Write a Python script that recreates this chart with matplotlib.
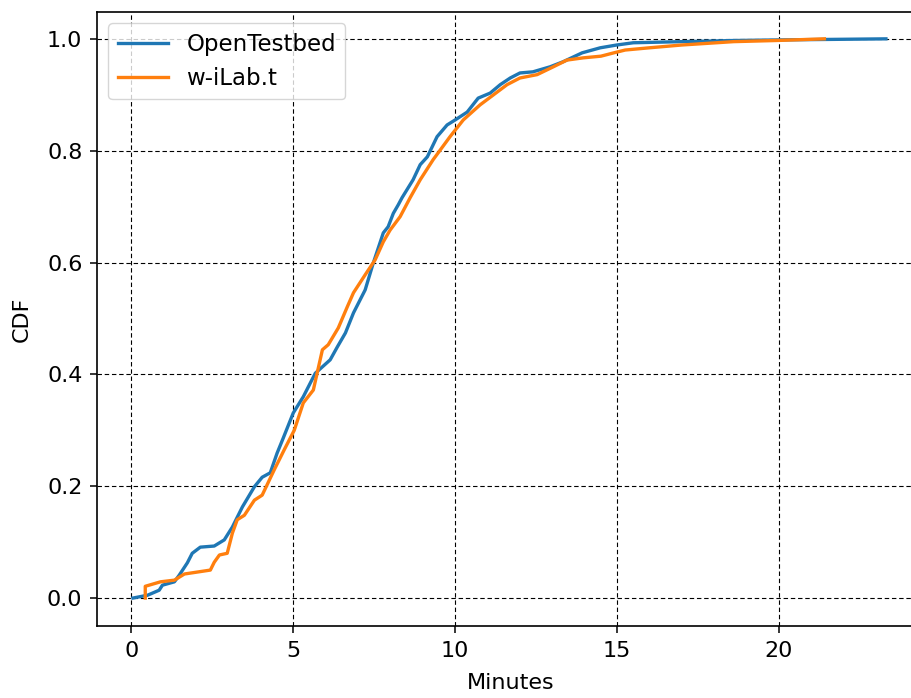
import matplotlib
matplotlib.use("Agg")
import matplotlib.pyplot as plt

# OpenTestbed CDF (minutes, cumulative fraction)
open_x = [0.05, 0.5, 0.86, 0.96, 1.33, 1.48, 1.73, 1.88, 2.13, 2.56, 2.87, 3.12, 3.43, 3.8,
          4.04, 4.29, 4.5, 4.69, 5.0, 5.31, 5.68, 6.14, 6.36, 6.61, 6.86, 7.22, 7.47, 7.78,
          7.93, 8.09, 8.24, 8.36, 8.7, 8.92, 9.14, 9.44, 9.75, 10.0, 10.37, 10.71, 11.08,
          11.39, 11.7, 12.0, 12.4, 12.93, 13.33, 13.92, 14.48, 14.99, 15.5, 17.0, 18.6,
          19.9, 23.3]
open_y = [0.0, 0.005, 0.014, 0.023, 0.029, 0.041, 0.063, 0.08, 0.091, 0.093, 0.104, 0.127,
          0.163, 0.199, 0.216, 0.224, 0.259, 0.286, 0.331, 0.36, 0.402, 0.426, 0.449, 0.474,
          0.51, 0.551, 0.599, 0.653, 0.664, 0.688, 0.703, 0.716, 0.748, 0.775, 0.789, 0.825,
          0.846, 0.855, 0.869, 0.894, 0.903, 0.918, 0.93, 0.939, 0.941, 0.95, 0.959, 0.975,
          0.984, 0.989, 0.993, 0.995, 0.997, 0.998, 1.0]

# w-iLab.t CDF
wilab_x = [0.43, 0.43, 0.9, 1.33, 1.64, 2.44, 2.56, 2.72, 2.96, 3.12, 3.27, 3.49, 3.8, 4.04,
           4.41, 4.72, 5.03, 5.31, 5.62, 5.9, 6.08, 6.39, 6.67, 6.86, 7.22, 7.53, 7.78, 7.99,
           8.3, 8.61, 8.92, 9.32, 9.84, 10.25, 10.77, 11.3, 11.6, 12.0, 12.53, 13.03, 13.45,
           13.95, 14.5, 14.9, 15.25, 16.0, 17.0, 18.6, 19.9, 21.4]
wilab_y = [0.0, 0.021, 0.029, 0.032, 0.043, 0.05, 0.064, 0.077, 0.08, 0.116, 0.14, 0.148,
           0.175, 0.184, 0.229, 0.265, 0.3, 0.349, 0.372, 0.444, 0.453, 0.483, 0.521, 0.546,
           0.578, 0.605, 0.637, 0.658, 0.682, 0.716, 0.748, 0.784, 0.825, 0.855, 0.882, 0.905,
           0.918, 0.93, 0.936, 0.95, 0.962, 0.966, 0.969, 0.975, 0.98, 0.984, 0.989, 0.995,
           0.997, 1.0]

xticks = [0, 5, 10, 15, 20]
yticks = [0.0, 0.2, 0.4, 0.6, 0.8, 1.0]

plt.rcParams['font.family'] = ['DejaVu Sans']
FS = 16
W, H = 912, 698
fig = plt.figure(figsize=(W / 100, H / 100), dpi=100)
left, right, bottom, top = 97, 923.5, 626, 12
ax = fig.add_axes([left / W, 1 - bottom / H, (right - left) / W, (bottom - top) / H])

ax.plot(open_x, open_y, color='#1f77b4', lw=2.4, label='OpenTestbed')
ax.plot(wilab_x, wilab_y, color='#ff7f0e', lw=2.4, label='w-iLab.t')

ax.set_xlim(-1.06, 24.46)
ax.set_ylim(-0.05, 1.048)
ax.set_xticks(xticks)
ax.set_yticks(yticks)
ax.set_yticklabels([f"{v:.1f}" for v in yticks])
ax.tick_params(labelsize=FS, length=5, width=1.1, pad=5.5)
ax.grid(True, linestyle=(0, (4, 2.5)), color='black', lw=0.8)
for s in ax.spines.values():
    s.set_linewidth(1.2)
ax.set_xlabel('Minutes', fontsize=FS, labelpad=9)
ax.set_ylabel('CDF', fontsize=FS, labelpad=11)
ax.legend(loc='upper left', fontsize=16.5, handlelength=2.2)

fig.savefig('out.png', dpi=100)
